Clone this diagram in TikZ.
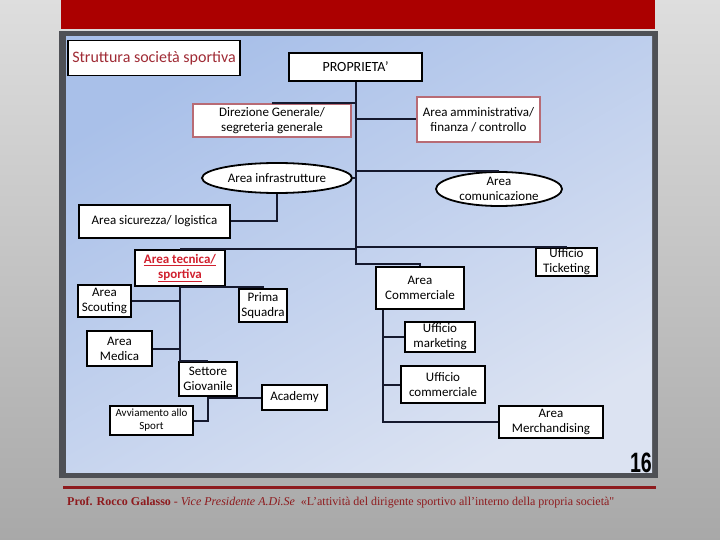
\documentclass[tikz,border=0pt]{standalone}
\usepackage{fontspec}
\setmainfont{Carlito}
\newfontfamily\footfont{Liberation Serif}
\newfontfamily\numfont{Liberation Sans}
\usetikzlibrary{shapes.geometric}
\definecolor{barred}{HTML}{AB0000}
\definecolor{framegray}{HTML}{4E5055}
\definecolor{skytop}{HTML}{A9C0E9}
\definecolor{skybot}{HTML}{DCE3F2}
\definecolor{rosyline}{HTML}{B86B75}
\definecolor{titlered}{HTML}{A02B35}
\definecolor{tecred}{HTML}{D0202E}
\definecolor{footred}{HTML}{8E1B1E}
\definecolor{linkblue}{HTML}{15192E}

\begin{document}
\begin{tikzpicture}[x=1pt, y=-1pt,
  box/.style   ={draw=black, fill=white, line width=1.8pt, align=center,
                 inner sep=1pt, font=\fontsize{13}{15}\selectfont},
  rosy/.style  ={box, draw=rosyline},
  oval/.style  ={ellipse, draw=black, fill=white, line width=1.8pt, align=center,
                 inner sep=0pt, font=\fontsize{13}{15}\selectfont},
  link/.style  ={line width=2pt, linkblue},
]
\useasboundingbox (0,0) rectangle (720,540);

% ---------------- slide background ----------------
\shade[top color=black!13, bottom color=black!34] (0,0) rectangle (720,540);
\fill[barred] (61,0) rectangle (655,29);
\fill[framegray] (59,31) rectangle (658,478);
\shade[top color=skytop, bottom color=skybot, shading angle=30] (66,37) rectangle (652,472);

% ---------------- top of the chart ----------------
\node[box, minimum width=172, minimum height=35, text=titlered,
      font=\fontsize{16}{18}\selectfont] (title) at (154,58) {Struttura società sportiva};
\node[box, minimum width=133, minimum height=28,
      font=\fontsize{14}{16}\selectfont] (prop) at (355.5,67) {PROPRIETA’};
\node[rosy, minimum width=158, minimum height=33] (dir) at (272,120.5)
  {Direzione Generale/\\segreteria generale};
\node[rosy, minimum width=123, minimum height=45] (amm) at (478.5,119.5)
  {Area amministrativa/\\finanza / controllo};
\node[oval, minimum width=150, minimum height=30] (infra) at (277,178) {Area infrastrutture};
\node[oval, minimum width=126, minimum height=34] (com) at (499,189) {Area\\comunicazione};
\node[box, minimum width=151, minimum height=33] (sic) at (154.5,221.5) {Area sicurezza/ logistica};
\node[box, minimum width=61, minimum height=28] (tick) at (566.5,262) {Ufficio\\Ticketing};
\node[box, minimum width=90, minimum height=36, text=tecred,
      font=\fontsize{13}{15}\selectfont\bfseries] (tec) at (180,268)
  {\underline{Area tecnica/}\\\underline{sportiva}};
\node[box, minimum width=88, minimum height=42] (comm) at (420,288) {Area\\Commerciale};

% ---------------- area tecnica ----------------
\node[box, minimum width=53, minimum height=32] (scout) at (104.5,301) {Area\\Scouting};
\node[box, minimum width=48, minimum height=33] (prima) at (263,305.5) {Prima\\Squadra};
\node[box, minimum width=65, minimum height=35] (med) at (119.5,348.5) {Area\\Medica};
\node[box, minimum width=58, minimum height=34] (sett) at (208,379) {Settore\\Giovanile};
\node[box, minimum width=65, minimum height=25] (acad) at (294.5,397.5) {Academy};
\node[box, minimum width=83, minimum height=29,
      font=\fontsize{11}{13}\selectfont] (avv) at (151.5,420.5) {Avviamento allo\\Sport};

% ---------------- area commerciale ----------------
\node[box, minimum width=70, minimum height=30] (mkt) at (440,337) {Ufficio\\marketing};
\node[box, minimum width=84, minimum height=37] (ucom) at (443,384.5) {Ufficio\\commerciale};
\node[box, minimum width=104, minimum height=32] (merch) at (551,422) {Area\\Merchandising};

% ---------------- connectors ----------------
\draw[link] (prop.south) |- ([yshift=2pt]comm.north) -- (comm.north);
\draw[link] (prop.south |- dir.north) -- (dir.north);
\draw[link] (prop.south |- amm.west) -- (amm.west);
\draw[link] (prop.south |- infra.east) -- (infra.east);
\draw[link] (prop.south |- com.north) -- (com.north);
\draw[link] (prop.south |- tick.north) -- (tick.north);
\draw[link] (prop.south |- tec.north) -- (tec.north);
\draw[link] (infra.south) |- (sic.east);

\draw[link] (tec.south) -- (tec.south |- sett.north) -- (sett.north);
\draw[link] (tec.south) -| (prima.north);
\draw[link] (scout.east) -- (tec.south |- scout.east);
\draw[link] (med.east) -- (tec.south |- med.east);
\draw[link] (sett.south) |- (acad.west);
\draw[link] (sett.south) |- (avv.east);

\coordinate (cstem) at ([xshift=8pt]comm.south west);
\draw[link] (cstem) |- (merch.west);
\draw[link] (cstem |- mkt.west) -- (mkt.west);
\draw[link] (cstem |- ucom.west) -- (ucom.west);

% ---------------- footer ----------------
\node[anchor=south east, inner sep=0pt, font=\numfont\fontsize{28}{28}\selectfont\bfseries]
  (num) at (652,473) {\scalebox{0.7}[1]{16}};
\draw[footred, line width=3pt] (63,487) -- (656,487);
\node[anchor=west, inner sep=0pt, text=footred, font=\footfont\fontsize{12}{14}\selectfont]
  (foot) at (67,503) {\textbf{Prof. Rocco Galasso} - \textit{Vice Presidente A.Di.Se}\ \ «L’attività del dirigente sportivo all’interno della propria società"};
\end{tikzpicture}
\end{document}
